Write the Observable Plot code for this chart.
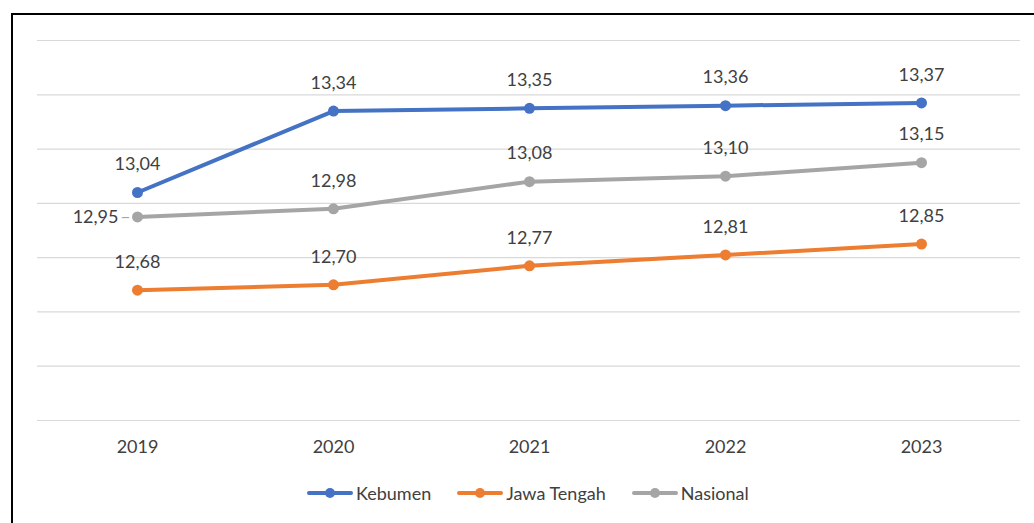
<!DOCTYPE html>
<html>
<head>
<meta charset="utf-8">
<script src="https://cdn.jsdelivr.net/npm/d3@7"></script>
<script src="https://cdn.jsdelivr.net/npm/@observablehq/plot@0.6"></script>
<style>
  html, body { margin: 0; padding: 0; background: #fff; overflow: hidden; width: 1034px; height: 523px; }
  #frame { position: absolute; left: 11px; top: 13px; width: 1060px; height: 560px; border: 2px solid #000; box-sizing: border-box; pointer-events: none; z-index: 2; }
  #chart { position: absolute; left: 0; top: 0; }
  #legend { position: absolute; left: 307px; top: 482px; display: flex; align-items: center; font-family: Lato, sans-serif; font-size: 18px; color: #404040; }
  #legend .item { display: flex; align-items: center; margin-right: 26px; }
  #legend svg { margin-right: 3px; }
</style>
</head>
<body>
<div id="frame"></div>
<div id="chart"></div>
<div id="legend"></div>
<script>
const years = ["2019", "2020", "2021", "2022", "2023"];
const kebumen = [13.04, 13.34, 13.35, 13.36, 13.37];
const jawaTengah = [12.68, 12.70, 12.77, 12.81, 12.85];
const nasional = [12.95, 12.98, 13.08, 13.10, 13.15];
const seriesNames = ["Kebumen", "Jawa Tengah", "Nasional"];
const seriesColors = ["#4472C4", "#ED7D31", "#A5A5A5"];
const yTicks = [12.2, 12.4, 12.6, 12.8, 13.0, 13.2, 13.4, 13.6];

const seriesValues = [kebumen, jawaTengah, nasional];
const rows = [];
seriesNames.forEach((name, si) => {
  years.forEach((yr, i) => rows.push({series: name, year: yr, value: seriesValues[si][i]}));
});
const fmt = v => v.toFixed(2).replace(".", ",");
const isLeftLabel = d => d.series === "Nasional" && d.year === "2019";

const font = "Lato, sans-serif";
const chart = Plot.plot({
  width: 1034,
  height: 470,
  marginLeft: 37,
  marginRight: 14,
  marginTop: 40,
  marginBottom: 50,
  style: {background: "transparent", fontFamily: font, color: "#404040"},
  x: {type: "point", domain: years, padding: 0.5, label: null},
  y: {domain: [12.2, 13.6], axis: null},
  color: {domain: seriesNames, range: seriesColors},
  marks: [
    Plot.ruleY(yTicks, {stroke: "#d9d9d9", strokeWidth: 1.2}),
    Plot.axisX({tickSize: 0, tickPadding: 20, fontSize: 18, fontFamily: font, fill: "#404040", label: null}),
    Plot.line(rows, {x: "year", y: "value", z: "series", stroke: "series", strokeWidth: 4, strokeLinecap: "round", strokeLinejoin: "round"}),
    Plot.dot(rows, {x: "year", y: "value", fill: "series", r: 5.5}),
    Plot.text(rows.filter(d => !isLeftLabel(d)), {x: "year", y: "value", text: d => fmt(d.value), dy: -28, fontSize: 18, fontFamily: font, fill: "#404040"}),
    Plot.text(rows.filter(isLeftLabel), {x: "year", y: "value", text: d => fmt(d.value), dx: -19, textAnchor: "end", fontSize: 18, fontFamily: font, fill: "#404040"}),
    Plot.text(rows.filter(isLeftLabel), {x: "year", y: "value", text: () => "\u2013", dx: -12, fontSize: 18, fontFamily: font, fill: "#a6a6a6"})
  ]
});
document.getElementById("chart").appendChild(chart);

const legend = document.getElementById("legend");
seriesNames.forEach((name, i) => {
  const item = document.createElement("div");
  item.className = "item";
  item.innerHTML = `<svg width="46" height="12"><line x1="2" y1="6" x2="44" y2="6" stroke="${seriesColors[i]}" stroke-width="4" stroke-linecap="round"/><circle cx="23" cy="6" r="5" fill="${seriesColors[i]}"/></svg><span>${name}</span>`;
  legend.appendChild(item);
});
</script>
</body>
</html>
